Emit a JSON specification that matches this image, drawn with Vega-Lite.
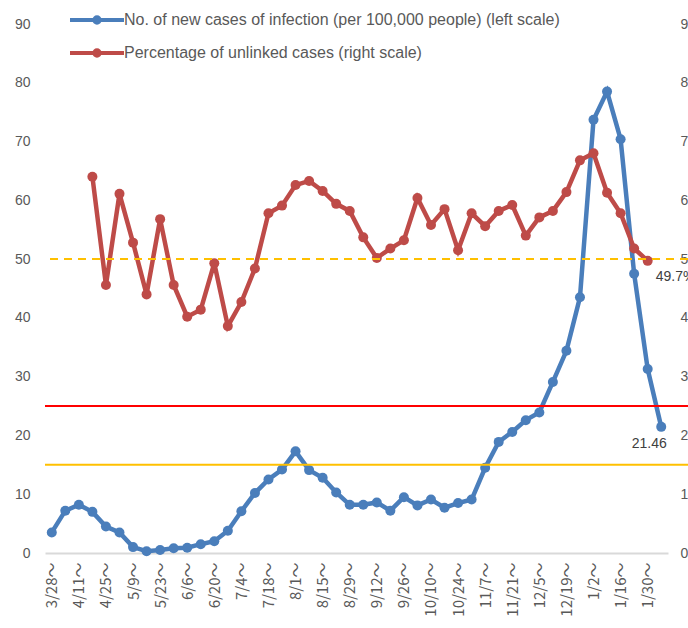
{
  "$schema": "https://vega.github.io/schema/vega-lite/v6.json",
  "width": 643,
  "height": 529,
  "autosize": {"type": "none"},
  "padding": {"left": 45, "top": 24, "right": 0, "bottom": 75},
  "background": "white",
  "config": {"view": {"stroke": null}, "font": "Liberation Sans"},
  "data": {"values": [
    {"week":"3/28","series":"cases","value":3.5},
    {"week":"4/4","series":"cases","value":7.2},
    {"week":"4/11","series":"cases","value":8.2},
    {"week":"4/18","series":"cases","value":7.0},
    {"week":"4/25","series":"cases","value":4.5},
    {"week":"5/2","series":"cases","value":3.5},
    {"week":"5/9","series":"cases","value":1.0},
    {"week":"5/16","series":"cases","value":0.3},
    {"week":"5/23","series":"cases","value":0.5},
    {"week":"5/30","series":"cases","value":0.8},
    {"week":"6/6","series":"cases","value":0.9},
    {"week":"6/13","series":"cases","value":1.5},
    {"week":"6/20","series":"cases","value":2.0},
    {"week":"6/27","series":"cases","value":3.8},
    {"week":"7/4","series":"cases","value":7.1},
    {"week":"7/11","series":"cases","value":10.2},
    {"week":"7/18","series":"cases","value":12.5},
    {"week":"7/25","series":"cases","value":14.2},
    {"week":"8/1","series":"cases","value":17.3},
    {"week":"8/8","series":"cases","value":14.1},
    {"week":"8/15","series":"cases","value":12.8},
    {"week":"8/22","series":"cases","value":10.3},
    {"week":"8/29","series":"cases","value":8.2},
    {"week":"9/5","series":"cases","value":8.2},
    {"week":"9/12","series":"cases","value":8.6},
    {"week":"9/19","series":"cases","value":7.2},
    {"week":"9/26","series":"cases","value":9.5},
    {"week":"10/3","series":"cases","value":8.1},
    {"week":"10/10","series":"cases","value":9.1},
    {"week":"10/17","series":"cases","value":7.7},
    {"week":"10/24","series":"cases","value":8.5},
    {"week":"10/31","series":"cases","value":9.1},
    {"week":"11/7","series":"cases","value":14.5},
    {"week":"11/14","series":"cases","value":18.9},
    {"week":"11/21","series":"cases","value":20.6},
    {"week":"11/28","series":"cases","value":22.6},
    {"week":"12/5","series":"cases","value":23.9},
    {"week":"12/12","series":"cases","value":29.1},
    {"week":"12/19","series":"cases","value":34.4},
    {"week":"12/26","series":"cases","value":43.5},
    {"week":"1/2","series":"cases","value":73.7},
    {"week":"1/9","series":"cases","value":78.5},
    {"week":"1/16","series":"cases","value":70.4},
    {"week":"1/23","series":"cases","value":47.5},
    {"week":"1/30","series":"cases","value":31.3},
    {"week":"2/6","series":"cases","value":21.46,"label":"21.46"},
    {"week":"4/18","series":"unlinked","value":64.0},
    {"week":"4/25","series":"unlinked","value":45.6},
    {"week":"5/2","series":"unlinked","value":61.1},
    {"week":"5/9","series":"unlinked","value":52.8},
    {"week":"5/16","series":"unlinked","value":44.0},
    {"week":"5/23","series":"unlinked","value":56.8},
    {"week":"5/30","series":"unlinked","value":45.6},
    {"week":"6/6","series":"unlinked","value":40.2},
    {"week":"6/13","series":"unlinked","value":41.4},
    {"week":"6/20","series":"unlinked","value":49.3},
    {"week":"6/27","series":"unlinked","value":38.6},
    {"week":"7/4","series":"unlinked","value":42.7},
    {"week":"7/11","series":"unlinked","value":48.4},
    {"week":"7/18","series":"unlinked","value":57.8},
    {"week":"7/25","series":"unlinked","value":59.1},
    {"week":"8/1","series":"unlinked","value":62.6},
    {"week":"8/8","series":"unlinked","value":63.3},
    {"week":"8/15","series":"unlinked","value":61.6},
    {"week":"8/22","series":"unlinked","value":59.4},
    {"week":"8/29","series":"unlinked","value":58.2},
    {"week":"9/5","series":"unlinked","value":53.7},
    {"week":"9/12","series":"unlinked","value":50.2},
    {"week":"9/19","series":"unlinked","value":51.8},
    {"week":"9/26","series":"unlinked","value":53.2},
    {"week":"10/3","series":"unlinked","value":60.4},
    {"week":"10/10","series":"unlinked","value":55.8},
    {"week":"10/17","series":"unlinked","value":58.5},
    {"week":"10/24","series":"unlinked","value":51.5},
    {"week":"10/31","series":"unlinked","value":57.8},
    {"week":"11/7","series":"unlinked","value":55.6},
    {"week":"11/14","series":"unlinked","value":58.2},
    {"week":"11/21","series":"unlinked","value":59.2},
    {"week":"11/28","series":"unlinked","value":54.0},
    {"week":"12/5","series":"unlinked","value":57.1},
    {"week":"12/12","series":"unlinked","value":58.2},
    {"week":"12/19","series":"unlinked","value":61.4},
    {"week":"12/26","series":"unlinked","value":66.8},
    {"week":"1/2","series":"unlinked","value":68.0},
    {"week":"1/9","series":"unlinked","value":61.3},
    {"week":"1/16","series":"unlinked","value":57.8},
    {"week":"1/23","series":"unlinked","value":51.8},
    {"week":"1/30","series":"unlinked","value":49.7,"label":"49.7%"}
  ]},
  "resolve": {"scale": {"y": "independent"}},
  "layer": [
    {
      "transform": [{"filter": "datum.series === 'cases'"}],
      "mark": {"type": "line", "strokeWidth": 4.5, "point": {"filled": true, "size": 100}},
      "encoding": {
        "x": {"field": "week", "type": "ordinal", "sort": null,
          "scale": {"type": "point", "domain": ["3/28","4/4","4/11","4/18","4/25","5/2","5/9","5/16","5/23","5/30","6/6","6/13","6/20","6/27","7/4","7/11","7/18","7/25","8/1","8/8","8/15","8/22","8/29","9/5","9/12","9/19","9/26","10/3","10/10","10/17","10/24","10/31","11/7","11/14","11/21","11/28","12/5","12/12","12/19","12/26","1/2","1/9","1/16","1/23","1/30","2/6"], "range": [0, 623], "padding": 0.5},
          "axis": {"title": null, "values": ["3/28","4/11","4/25","5/9","5/23","6/6","6/20","7/4","7/18","8/1","8/15","8/29","9/12","9/26","10/10","10/24","11/7","11/21","12/5","12/19","1/2","1/16","1/30"],
            "labelExpr": "datum.label + '～'", "labelAngle": -90, "labelAlign": "right", "labelBaseline": "middle",
            "labelFont": "Noto Sans CJK JP", "labelFontSize": 15, "labelColor": "#595959", "labelPadding": 9, "ticks": false,
            "domainColor": "#D9D9D9", "domainWidth": 2, "grid": false}},
        "y": {"field": "value", "type": "quantitative", "scale": {"domain": [0, 90], "nice": false},
          "axis": {"title": null, "orient": "left", "values": [0,10,20,30,40,50,60,70,80,90], "domain": false, "ticks": false, "grid": false,
            "labelFontSize": 14, "labelColor": "#595959", "labelPadding": 15}},
        "color": {"field": "series", "type": "nominal",
          "scale": {"domain": ["cases", "unlinked"], "range": ["#4A7EBB", "#BE4B48"]},
          "legend": {"title": null, "orient": "none", "legendX": 41, "legendY": -15, "padding": 0,
            "symbolType": "M-3,0L3,0M-0.3,0A0.3,0.3,0,1,1,0.3,0A0.3,0.3,0,1,1,-0.3,0Z",
            "symbolSize": 324, "symbolStrokeWidth": 4, "labelOffset": 16, "rowPadding": 11,
            "labelFontSize": 16, "labelColor": "#595959", "labelLimit": 600,
            "labelExpr": "datum.label === 'cases' ? 'No. of new cases of infection (per 100,000 people) (left scale)' : 'Percentage of unlinked cases (right scale)'",
            "encode": {"symbols": {"update": {"fill": {"scale": "color", "field": "value"}, "stroke": {"scale": "color", "field": "value"}}}}}}
      }
    },
    {
      "transform": [{"filter": "datum.series === 'unlinked'"}],
      "mark": {"type": "line", "strokeWidth": 4.5, "point": {"filled": true, "size": 100}},
      "encoding": {
        "x": {"field": "week", "type": "ordinal", "sort": null},
        "y": {"field": "value", "type": "quantitative", "scale": {"domain": [0, 90], "nice": false},
          "axis": {"title": null, "orient": "right", "offset": -20, "values": [0,10,20,30,40,50,60,70,80,90], "domain": false, "ticks": false, "grid": false,
            "labelExpr": "datum.value + '%'", "labelFontSize": 14, "labelColor": "#595959", "labelPadding": 12}},
        "color": {"field": "series", "type": "nominal"}
      }
    },
    {
      "data": {"values": [{}]},
      "mark": {"type": "rule", "color": "#FF0000", "strokeWidth": 2},
      "encoding": {"y": {"datum": 25, "type": "quantitative", "scale": {"domain": [0, 90], "nice": false}, "axis": null}}
    },
    {
      "data": {"values": [{}]},
      "mark": {"type": "rule", "color": "#FFC000", "strokeWidth": 2},
      "encoding": {"y": {"datum": 15, "type": "quantitative", "scale": {"domain": [0, 90], "nice": false}, "axis": null}}
    },
    {
      "data": {"values": [{}]},
      "mark": {"type": "rule", "color": "#FFC000", "strokeWidth": 2, "strokeDash": [8, 6]},
      "encoding": {"y": {"datum": 50, "type": "quantitative", "scale": {"domain": [0, 90], "nice": false}, "axis": null}}
    },
    {
      "transform": [{"filter": "datum.series === 'cases' && datum.label"}],
      "mark": {"type": "text", "fontSize": 14, "color": "#404040", "align": "center", "baseline": "middle", "dx": -12, "dy": 17},
      "encoding": {
        "x": {"field": "week", "type": "ordinal", "sort": null},
        "y": {"field": "value", "type": "quantitative", "scale": {"domain": [0, 90], "nice": false}, "axis": null},
        "text": {"field": "label"}
      }
    },
    {
      "transform": [{"filter": "datum.series === 'unlinked' && datum.label"}],
      "mark": {"type": "text", "fontSize": 14, "color": "#404040", "align": "left", "baseline": "middle", "dx": 8, "dy": 16},
      "encoding": {
        "x": {"field": "week", "type": "ordinal", "sort": null},
        "y": {"field": "value", "type": "quantitative", "scale": {"domain": [0, 90], "nice": false}, "axis": null},
        "text": {"field": "label"}
      }
    }
  ]
}
